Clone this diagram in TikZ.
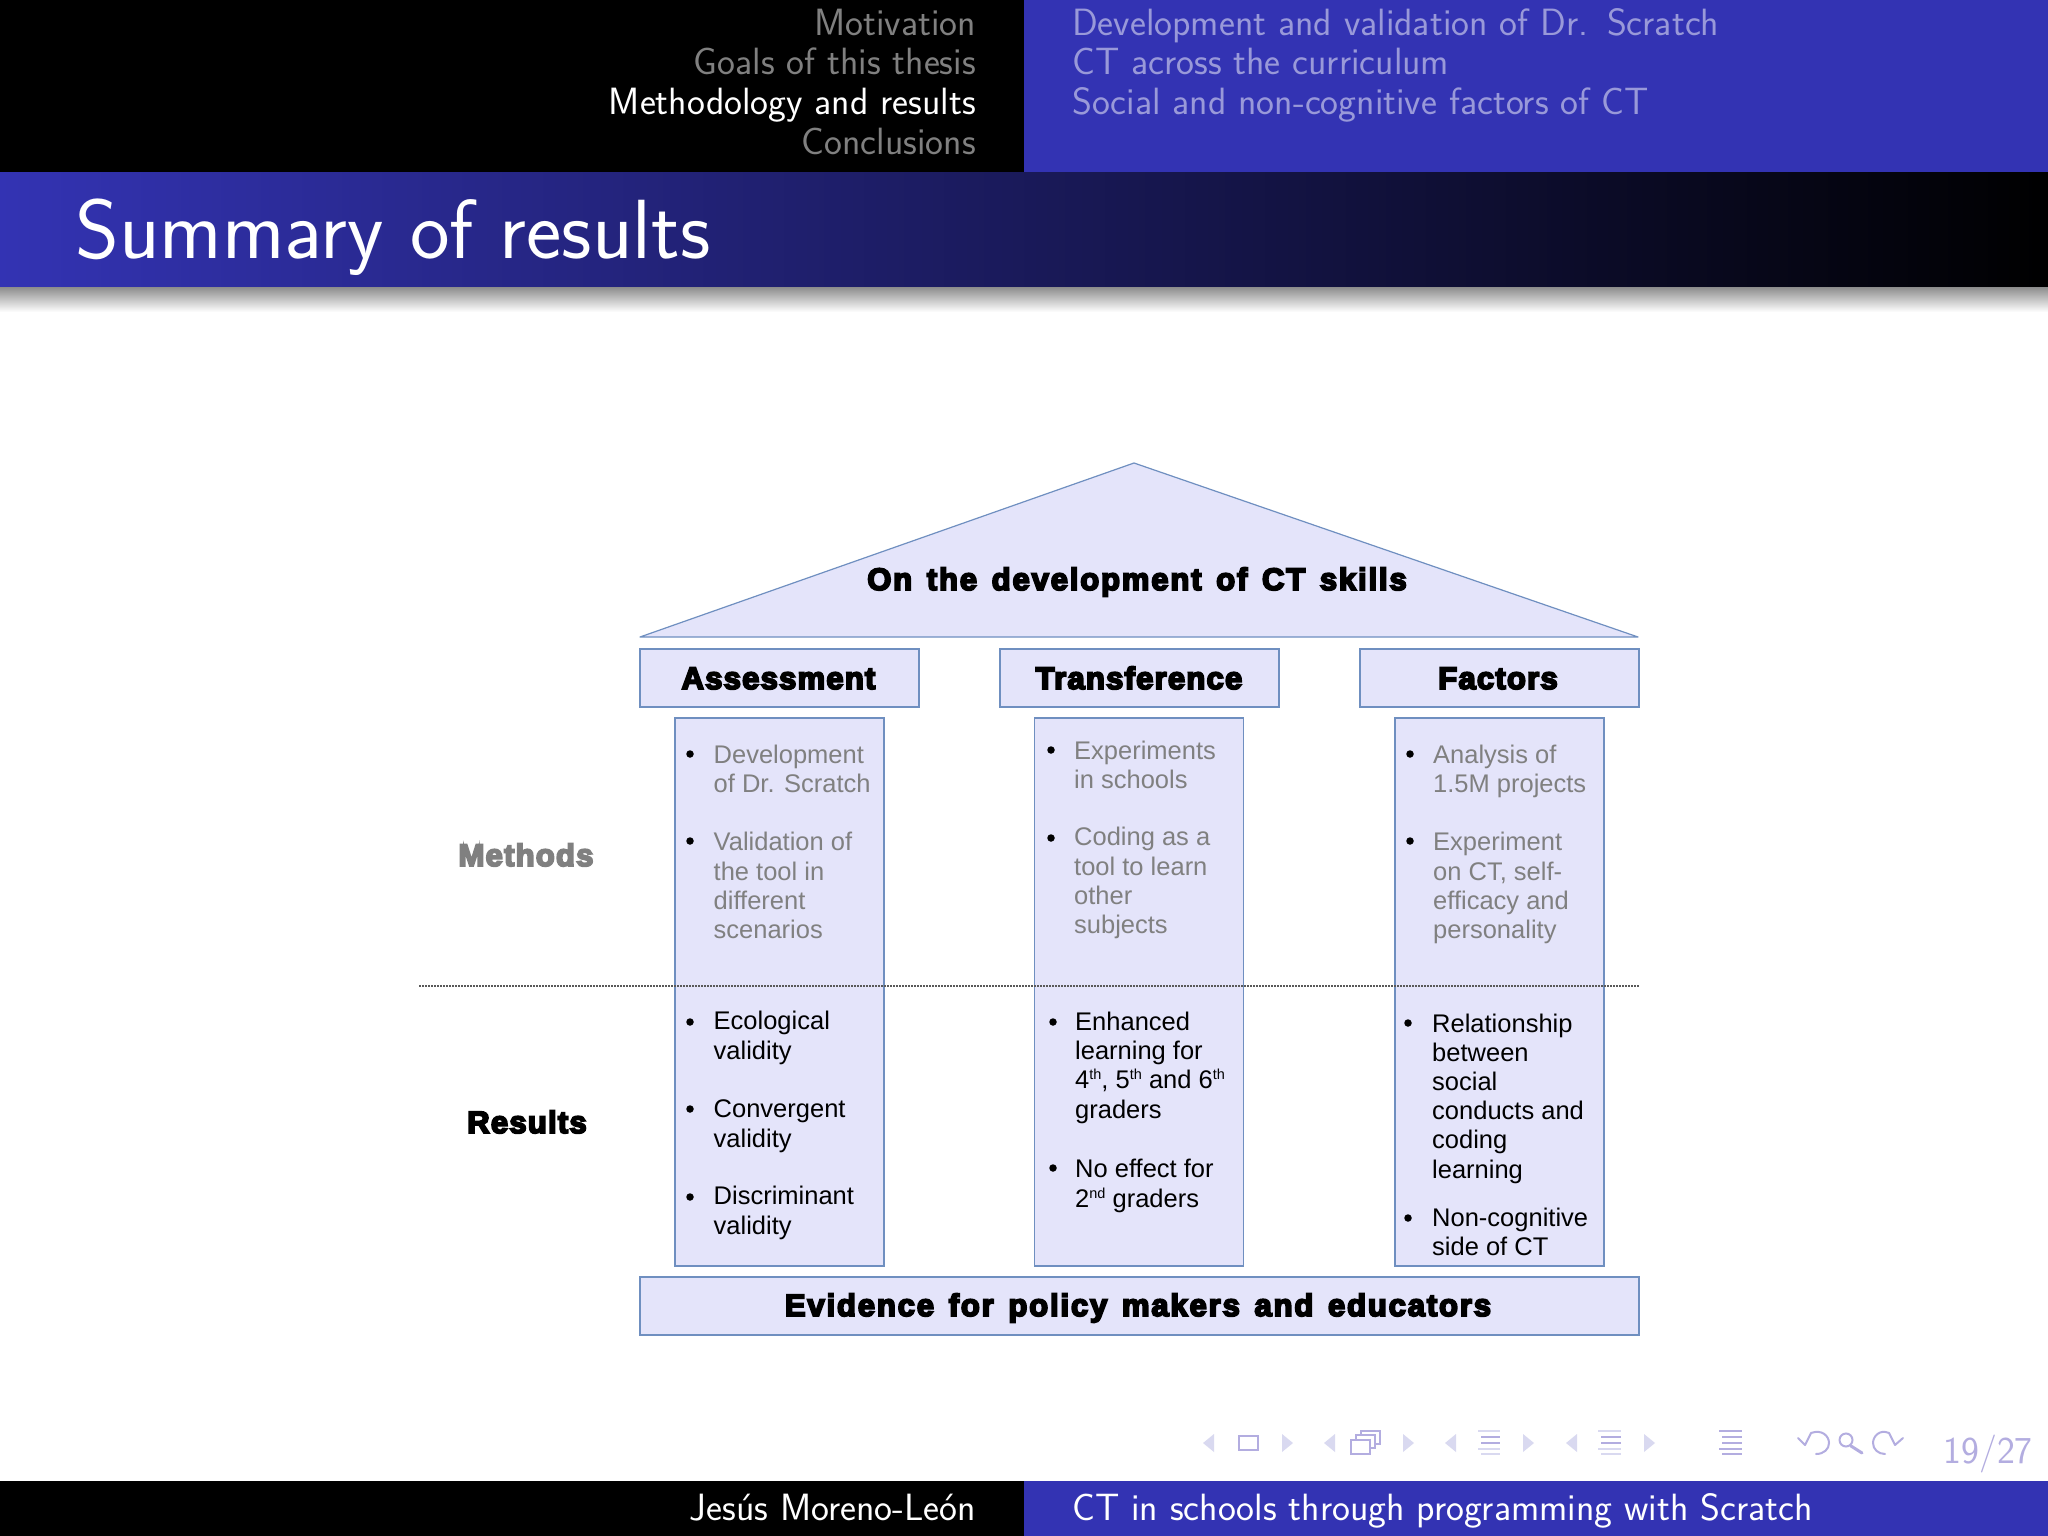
\documentclass[tikz,border=0pt]{standalone}
\usepackage{fontspec}
\setmainfont{Liberation Sans}
\newfontfamily\heavy[FakeBold=6,LetterSpace=4,WordSpace=1.6]{Liberation Sans Bold}
\newfontfamily\heavyw[FakeBold=6,LetterSpace=6,WordSpace=1.4]{Liberation Sans Bold}
\definecolor{navyb}{HTML}{3333B3}
\definecolor{boxfill}{HTML}{E4E4FA}
\definecolor{boxline}{HTML}{6F8FC0}
\definecolor{dimgr}{HTML}{808080}
\definecolor{dimbl}{HTML}{9999D9}
\definecolor{navc}{HTML}{B3ADE0}
\definecolor{navl}{HTML}{D9D9F0}
\pgfdeclarehorizontalshading{bandshade}{100bp}{color(0bp)=(navyb); color(25bp)=(navyb); color(75bp)=(black); color(100bp)=(black)}
\tikzset{
  panel/.style={fill=boxfill,draw=boxline,line width=1.2pt},
  headtxt/.style={font=\sffamily\fontsize{38}{38}\selectfont,inner sep=0pt},
  hl/.style={headtxt,anchor=base east},
  hr/.style={headtxt,anchor=base west},
  bul/.style={font=\fontsize{25.5}{29.2}\selectfont,inner sep=0pt,anchor=base west,align=left},
  meth/.style={bul,text=dimgr},
  dot/.style={fill=black,draw=none,circle,minimum size=7.5pt,inner sep=0pt},
  big/.style={font=\heavy\fontsize{31}{31}\selectfont,inner sep=0pt,anchor=base},
  bigw/.style={font=\heavyw\fontsize{31}{31}\selectfont,inner sep=0pt,anchor=base},
  navtri/.style={fill=navl,draw=none},
  navbar/.style={line width=2.6pt},
}
\newcommand{\sps}[1]{\raisebox{9pt}{\fontsize{14.5}{14.5}\selectfont #1}}
\newcommand{\navbars}[4]{% x0, x1, main colour, dim colour
  \draw[navbar,#4] (#1,1431) -- (#2,1431);
  \draw[navbar,#3] (#1+3,1437) -- (#2,1437);
  \draw[navbar,#3] (#1+3,1443) -- (#2,1443);
  \draw[navbar,#4] (#1,1449) -- (#2,1449);
  \draw[navbar,#4] (#1+3,1454) -- (#2,1454);
}
\newcommand{\lefttri}[1]{\fill[navtri] (#1,1443) -- (#1+11,1434) -- (#1+11,1452) -- cycle;}
\newcommand{\righttri}[1]{\fill[navtri] (#1,1434) -- (#1+11,1443) -- (#1,1452) -- cycle;}
\begin{document}
\begin{tikzpicture}[x=1pt,y=-1pt]
\useasboundingbox (0,0) rectangle (2048,1536);
\fill[white] (0,0) rectangle (2048,1536);
% header
\fill[black] (0,0) rectangle (1024,172);
\fill[navyb] (1024,0) rectangle (2048,172);
\node[hl,text=dimgr] (h1) at (976,36) {Motivation};
\node[hl,text=dimgr] (h2) at (976,75) {Goals of this thesis};
\node[hl,text=white] (h3) at (976,114.5) {Methodology and results};
\node[hl,text=dimgr] (h4) at (976,154) {Conclusions};
\node[hr,text=dimbl] (s1) at (1072,36) {Development and validation of Dr.\ \hspace{7pt}Scratch};
\node[hr,text=dimbl] (s2) at (1072,75) {CT across the curriculum};
\node[hr,text=dimbl] (s3) at (1072,114.5) {Social and non-cognitive factors of CT};
% title band
\shade[shading=bandshade] (0,172) rectangle (2048,287);
\shade[top color=black!45,bottom color=white] (0,287) rectangle (2048,312);
\node[font=\sffamily\fontsize{84}{84}\selectfont,text=white,inner sep=0pt,anchor=base west] (title) at (75,258) {Summary of results};
% footer
\fill[black] (0,1481) rectangle (1024,1536);
\fill[navyb] (1024,1481) rectangle (2048,1536);
\node[hl,text=white] (f1) at (976,1520) {Jesús Moreno-León};
\node[hr,text=white] (f2) at (1072,1520) {CT in schools through programming with Scratch};
% house
\draw[panel,line join=round] (640,637) -- (1134,463) -- (1638,637) -- cycle;
\node[bigw] (roof) at (1137,590) {On the development of CT skills};
\node[panel,minimum width=279pt,minimum height=58pt,inner sep=0pt] (b1) at (779.5,678) {};
\node[panel,minimum width=279pt,minimum height=58pt,inner sep=0pt] (b2) at (1139.5,678) {};
\node[panel,minimum width=279pt,minimum height=58pt,inner sep=0pt] (b3) at (1499.5,678) {};
\node[big] (t1) at (778.5,689) {Assessment};
\node[big] (t2) at (1139,689) {Transference};
\node[big] (t3) at (1498,689) {Factors};
\node[panel,minimum width=209pt,minimum height=548pt,inner sep=0pt] (c1) at (779.5,992) {};
\node[panel,minimum width=209pt,minimum height=548pt,inner sep=0pt] (c2) at (1139,992) {};
\node[panel,minimum width=209pt,minimum height=548pt,inner sep=0pt] (c3) at (1499.5,992) {};
\node[panel,minimum width=999pt,minimum height=58pt,inner sep=0pt] (base) at (1139.5,1306) {};
\node[bigw] (t4) at (1138,1316) {Evidence for policy makers and educators};
\coordinate (dl) at (419,986);
\coordinate (dr) at (1639,986);
\draw[dash pattern=on 1.5pt off 1.5pt,line width=1.4pt,black!65] (dl) -- (dr);
\node[big,text=dimgr] (lm) at (526,866) {Methods};
\node[big] (lr) at (527,1133) {Results};
% column 1
\node[dot] (d1) at (690,754) {}; \node[meth] (m1) at (713.5,792.5) {Development\\of Dr. Scratch};
\node[dot] (d2) at (690,841) {}; \node[meth] (m2) at (713.5,938.5) {Validation of\\the tool in\\different\\scenarios};
\node[dot] (d3) at (690,1022) {}; \node[bul] (m3) at (713.5,1059) {Ecological\\validity};
\node[dot] (d4) at (690,1109) {}; \node[bul] (m4) at (713.5,1147) {Convergent\\validity};
\node[dot] (d5) at (690,1197) {}; \node[bul] (m5) at (713.5,1234) {Discriminant\\validity};
% column 2
\node[dot] (d6) at (1051,750) {}; \node[meth] (m6) at (1074,788.5) {Experiments\\in schools};
\node[dot] (d7) at (1051,838) {}; \node[meth] (m7) at (1074,933.5) {Coding as a\\tool to learn\\other\\subjects};
\node[dot] (d8) at (1053,1022) {}; \node[bul] (m8) at (1075,1118) {Enhanced\\learning for\\4\sps{th}, 5\sps{th} and 6\sps{th}\\graders};
\node[dot] (d9) at (1053,1168) {}; \node[bul] (m9) at (1075,1207) {No effect for\\2\sps{nd} graders};
% column 3
\node[dot] (d10) at (1410,754) {}; \node[meth] (m10) at (1433,792.5) {Analysis of\\1.5M projects};
\node[dot] (d11) at (1410,841) {}; \node[meth] (m11) at (1433,938.5) {Experiment\\on CT, self-\\efficacy and\\personality};
\node[dot] (d12) at (1408,1023) {}; \node[bul] (m12) at (1432,1178) {Relationship\\between\\social\\conducts and\\coding\\learning};
\node[dot] (d13) at (1408,1218) {}; \node[bul] (m13) at (1432,1255.5) {Non-cognitive\\side of CT};
% navigation symbols
\lefttri{1203}
\draw[navc,line width=2.2pt] (1239,1436) rectangle (1258,1450);
\righttri{1282}
\lefttri{1324}
\draw[navc,line width=1.6pt,fill=white] (1361,1431) rectangle (1380,1444);
\draw[navc,line width=1.6pt,fill=white] (1356,1435) rectangle (1375,1448);
\draw[navc,line width=2pt,fill=white] (1351,1440) rectangle (1370,1454);
\righttri{1403}
\lefttri{1445}
\navbars{1478}{1500}{navc}{navl}
\righttri{1523}
\lefttri{1566}
\navbars{1598}{1621}{navc}{navl}
\righttri{1644}
\navbars{1719}{1742}{navc}{navc}
\draw[navc,line width=2pt,line cap=round,line join=round] (1798,1438) -- (1805,1445) -- (1811,1433) .. controls (1822,1429) and (1829,1436) .. (1829,1443) .. controls (1829,1449) and (1824,1454) .. (1816,1454);
\draw[navc,line width=2pt] (1846,1440) circle[radius=6.5pt];
\draw[navc,line width=3pt,line cap=round] (1851,1446) -- (1862,1453);
\draw[navc,line width=2pt,line cap=round,line join=round] (1903,1438) -- (1895,1445) -- (1889,1433) .. controls (1880,1429) and (1873,1436) .. (1873,1443) .. controls (1873,1449) and (1878,1454) .. (1885,1454);
\node[font=\sffamily\fontsize{38}{38}\selectfont,text=navc,inner sep=0pt,anchor=base east] (pg) at (2033,1463) {19/27};
\end{tikzpicture}
\end{document}
